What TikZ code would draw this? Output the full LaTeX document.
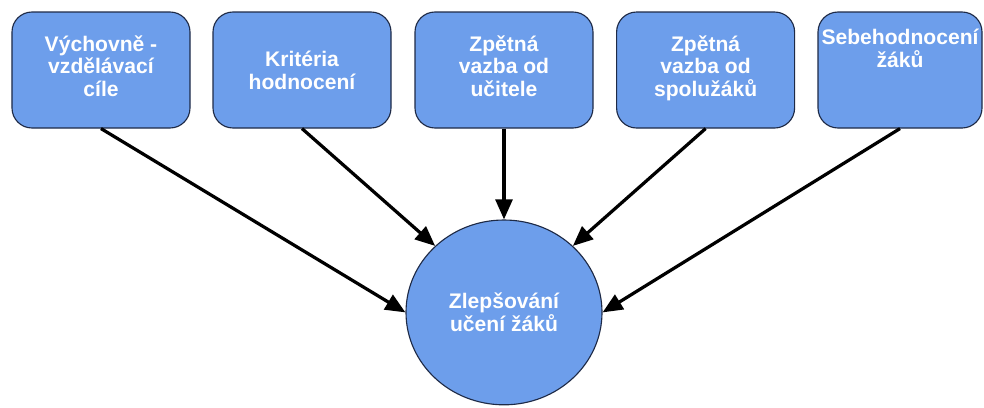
\documentclass[tikz,border=0pt]{standalone}
\usepackage{fontspec}
\setmainfont{Liberation Sans}
\usetikzlibrary{positioning,shapes.geometric,arrows.meta}
\definecolor{boxblue}{RGB}{109,158,235}
\definecolor{edgenavy}{RGB}{30,42,70}

\begin{document}
\begin{tikzpicture}[every node/.style={font=\fontsize{15}{16.2}\selectfont\bfseries}]
    \tikzstyle{goal}=[rectangle, rounded corners=0.5cm, draw=edgenavy, line width=0.8pt, fill=boxblue, text=white, align=center, minimum width=4.45cm, minimum height=2.9cm, inner sep=0pt]
    \tikzstyle{hub}=[ellipse, draw=edgenavy, line width=0.8pt, fill=boxblue, text=white, align=center, minimum width=4.9cm, minimum height=4.62cm, inner sep=0pt]
    \tikzstyle{feed}=[line width=2.3pt, -{Triangle[length=5mm,width=4.2mm]}]
    \useasboundingbox (0,0) rectangle (24.6,-10.175);
    % top row
    \node[goal, text depth=0.2cm] (V) at (2.525,-1.75) {Výchovně -\\vzdělávací\\cíle};
    \node[goal] (K) at (7.55,-1.75) {Kritéria\\hodnocení};
    \node[goal, text depth=0.2cm] (U) at (12.6,-1.75) {Zpětná\\vazba od\\učitele};
    \node[goal, text depth=0.2cm] (S) at (17.64,-1.75) {Zpětná\\vazba od\\spolužáků};
    \node[goal, minimum width=4.1cm, text depth=1.1cm] (H) at (22.5,-1.75) {Sebehodnocení\\žáků};
    % centre
    \node[hub] (Z) at (12.6,-7.81) {Zlepšování\\učení žáků};
    \draw[feed] (V.south) -- (Z.west);
    \draw[feed] (K.south) -- (Z.136);
    \draw[feed] (U.south) -- (Z.north);
    \draw[feed] (S.south) -- (Z.44);
    \draw[feed] (H.south) -- (Z.east);
\end{tikzpicture}
\end{document}
